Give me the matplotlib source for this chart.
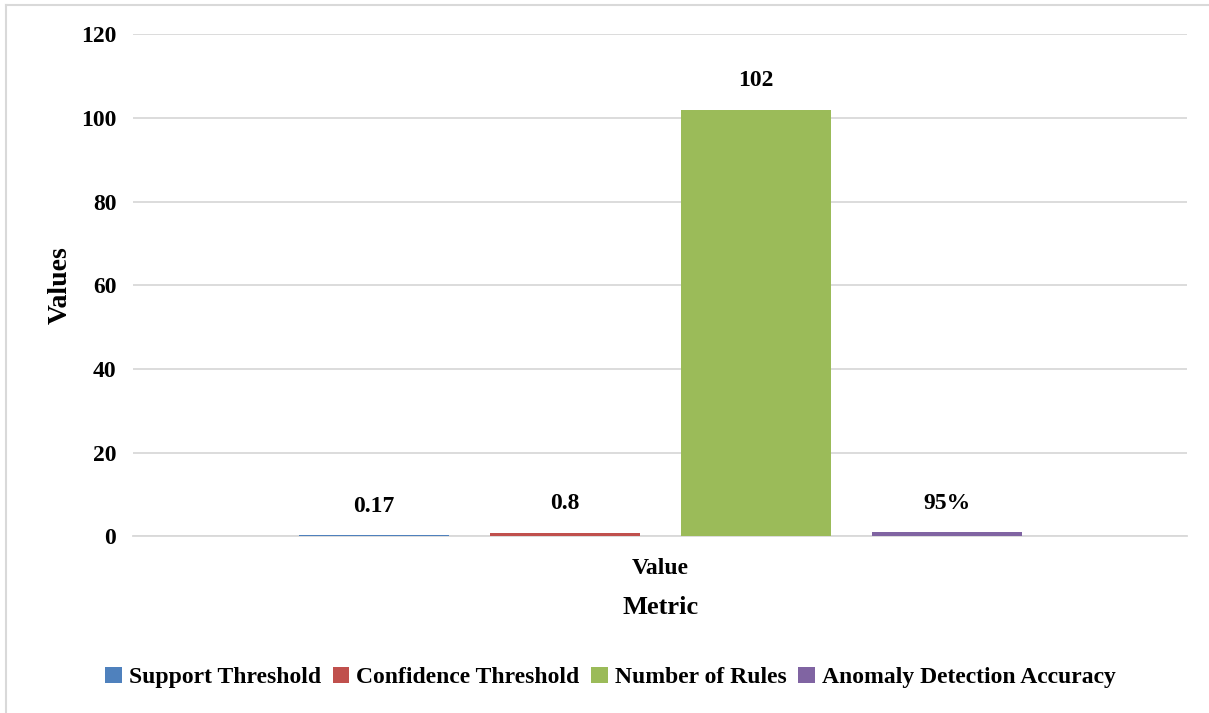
import numpy as np
import matplotlib.pyplot as plt
from matplotlib.lines import Line2D

plt.rcParams['font.family'] = ['Liberation Serif', 'DejaVu Serif']
plt.rcParams['font.weight'] = 'bold'

category = ["Value"]
series = ["Support Threshold", "Confidence Threshold", "Number of Rules", "Anomaly Detection Accuracy"]
values = [0.17, 0.8, 102, 0.95]
labels = ["0.17", "0.8", "102", "95%"]
colors = ["#4F81BD", "#C0504D", "#9BBB59", "#8064A2"]

fig = plt.figure(figsize=(12.09, 7.13), dpi=100)
ax = fig.add_axes([0.110, 0.248, 0.872, 0.704])

step = 0.1812
width = 0.1423
offsets = (np.arange(len(series)) - 1.5) * step
for off, v, lab, c, name in zip(offsets, values, labels, colors, series):
    ax.bar(off, v, width=width, color=c, label=name, zorder=3)
    ax.annotate(lab, (off, v), xytext=(0, 21), textcoords="offset points",
                ha="center", va="center", fontsize=17, fontweight="bold")

ax.set_xlim(-0.5, 0.5)
ax.set_ylim(0, 120)
ax.set_yticks(np.arange(0, 121, 20))
ax.set_xticks([0])
ax.set_xticklabels(category)
ax.tick_params(length=0, labelsize=17)
ax.tick_params(axis="y", pad=12)
ax.tick_params(axis="x", pad=16)
for lbl in ax.get_xticklabels() + ax.get_yticklabels():
    lbl.set_fontweight("bold")

ax.grid(axis="y", color="#D9D9D9", linewidth=1.3, zorder=0)
for s in ["top", "right", "left"]:
    ax.spines[s].set_visible(False)
ax.spines["bottom"].set_color("#D9D9D9")
ax.spines["bottom"].set_linewidth(1.3)

ax.set_ylabel("Values", fontsize=20, fontweight="bold", labelpad=6)
ax.set_xlabel("Metric", fontsize=19, fontweight="bold", labelpad=12)

fig.legend(loc="center", bbox_to_anchor=(0.505, 0.05), ncol=4, frameon=False,
           handlelength=0.7, handleheight=0.7, handletextpad=0.3,
           columnspacing=0.5, prop={"weight": "bold", "size": 17})

# outer frame
fig.add_artist(Line2D([0.005, 0.005], [0.0, 0.993], transform=fig.transFigure,
                      color="#D9D9D9", linewidth=1.5))
fig.add_artist(Line2D([0.005, 1.0], [0.993, 0.993], transform=fig.transFigure,
                      color="#D9D9D9", linewidth=1.5))

fig.savefig("out.png", dpi=100)
